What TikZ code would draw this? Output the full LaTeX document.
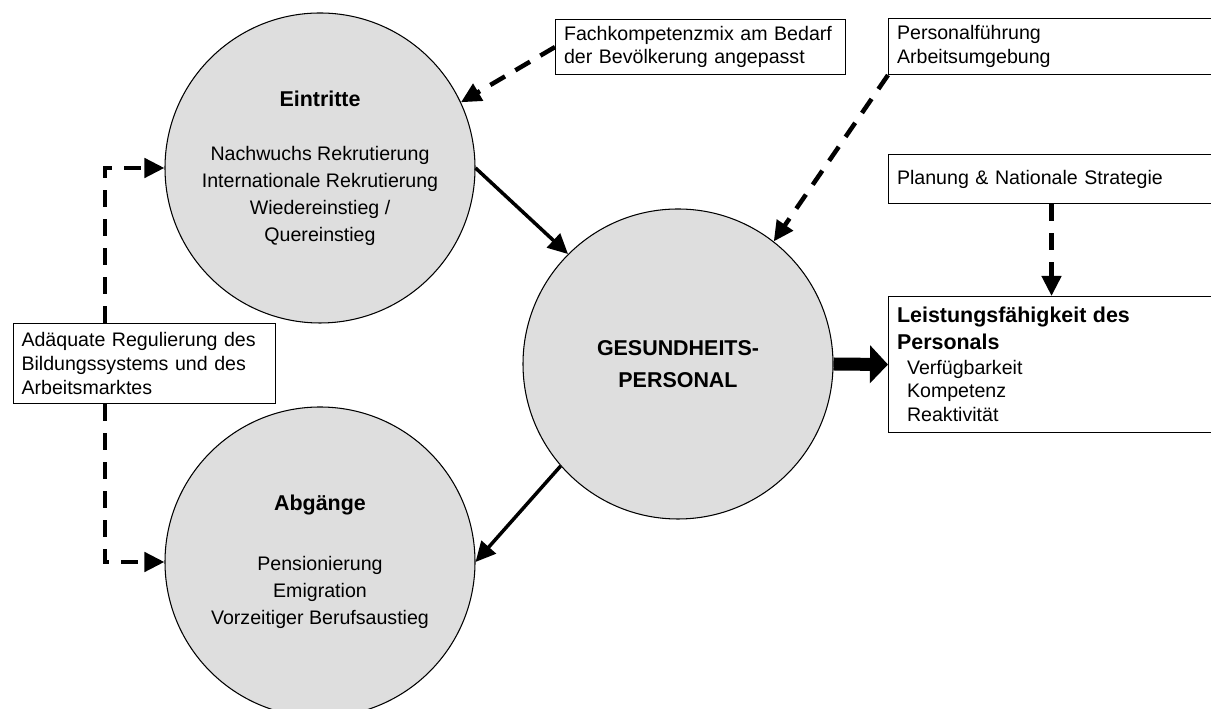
\documentclass[tikz,border=0pt]{standalone}
\usepackage{fontspec}
\setmainfont{Liberation Sans}
\usetikzlibrary{positioning,arrows.meta,calc}
\definecolor{circgrey}{gray}{0.87}
\tikzset{
  fig/.style={font=\fontsize{11.15}{13.4}\selectfont},
  circ/.style={circle,draw,line width=0.6pt,fill=circgrey,minimum size=6.2cm,
               inner sep=0pt,align=center,font=\fontsize{11.15}{15.4}\selectfont},
  box/.style={draw,line width=0.6pt,anchor=north west,align=left,inner xsep=0.17cm,
              inner ysep=0pt,font=\fontsize{11.15}{13.4}\selectfont},
  ln/.style={-{Triangle[length=0.4cm,width=0.38cm]},line width=0.07cm},
  dln/.style={ln,line width=0.09cm,dash pattern=on 0.34cm off 0.24cm},
  bigln/.style={-{Triangle[length=0.36cm,width=0.74cm]},line width=0.26cm},
}
\newcommand{\figtitle}[1]{{\fontsize{12.2}{15.4}\selectfont\bfseries #1}}

\begin{document}
\begin{tikzpicture}[fig]
\useasboundingbox (0,0) rectangle (24.22,14.18);

% =======================  circles  =====================
\node[circ] (eintr) at (6.40,10.82)
  {\figtitle{Eintritte}\\[15.4pt]Nachwuchs Rekrutierung\\Internationale Rekrutierung\\
   Wiedereinstieg /\\Quereinstieg};
\node[circ] (abg) at (6.40,2.94)
  {\figtitle{Abgänge}\\[18.7pt]Pensionierung\\Emigration\\Vorzeitiger Berufsaustieg};
\node[circ] (gesund) at (13.56,6.90)
  {\figtitle{GESUNDHEITS-}\\[2.8pt]\figtitle{PERSONAL}};

% =======================  boxes  =====================
\node[box,text width=5.46cm,minimum height=1.1cm] (fach) at (11.10,13.80)
  {Fachkompetenzmix am Bedarf\\der Bevölkerung angepasst};
\node[box,text width=6.18cm,minimum height=1.12cm] (pers) at (17.76,13.82)
  {Personalführung\\Arbeitsumgebung};
\node[box,text width=6.18cm,minimum height=0.98cm] (plan) at (17.76,11.10)
  {Planung \& Nationale Strategie};
\node[box,text width=6.18cm,minimum height=2.72cm] (leist) at (17.76,8.26)
  {\figtitle{Leistungsfähigkeit des}\\[1.8pt]\figtitle{Personals}\\[0.6pt]
   \hspace*{0.2cm}Verfügbarkeit\\\hspace*{0.2cm}Kompetenz\\\hspace*{0.2cm}Reaktivität};
\node[box,text width=4.91cm,minimum height=1.6cm] (adq) at (0.25,7.72)
  {Adäquate Regulierung des\\Bildungssystems und des\\Arbeitsmarktes};

% =======================  connectors  =====================
\coordinate (adqt) at ([xshift=1.85cm]adq.north west);
\coordinate (adqb) at ([xshift=1.85cm]adq.south west);
\draw[dln] (adqt) |- (eintr.west);
\draw[dln] (adqb) |- (abg.west);
\draw[dln] (fach.west) -- (eintr.25);
\draw[dln] (pers.south west) -- (gesund.52);
\draw[dln] (plan.south) -- (leist.north);

\draw[ln] (eintr.east) -- (gesund.135);
\draw[ln] (gesund.221.6) -- (abg.east);
\draw[bigln] (gesund.east) -- (leist.west);

\end{tikzpicture}
\end{document}
